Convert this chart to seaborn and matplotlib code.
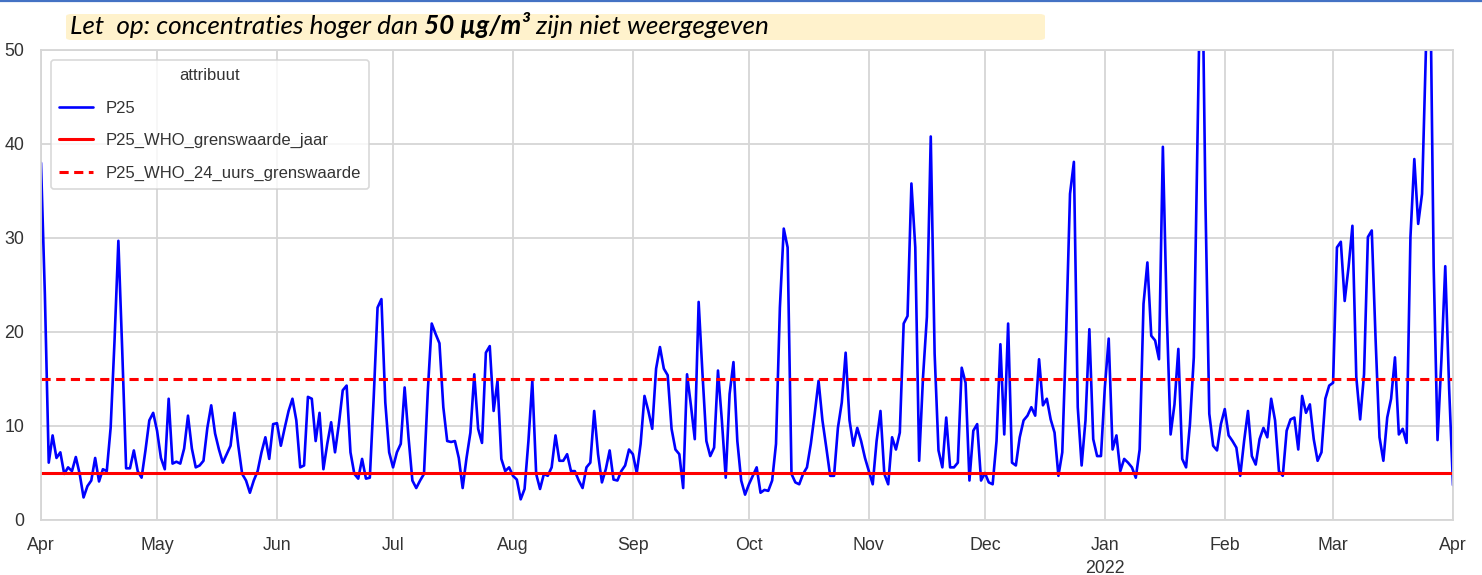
import numpy as np
import pandas as pd
import matplotlib
matplotlib.use("Agg")
import matplotlib.pyplot as plt
import seaborn as sns
from matplotlib.patches import FancyBboxPatch
from matplotlib.lines import Line2D

# ---------------- data ----------------
start_date = "2021-04-01"
end_date = "2022-04-01"

p25 = [
    # April 2021
    38, 24, 6.1, 9.0, 6.6, 7.2, 4.9, 5.6, 5.2, 6.7, 4.9, 2.4, 3.6, 4.2, 6.6,
    4.1, 5.4, 5.2, 9.8, 19, 29.7, 18, 5.5, 5.5, 7.4, 5.2, 4.5, 7.4, 10.6, 11.4,
    # May
    9.5, 6.6, 5.4, 12.9, 6.0, 6.2, 6.0, 7.6, 11.1, 7.6, 5.6, 5.8, 6.3, 9.8, 12.2,
    9.2, 7.5, 6.1, 7.0, 7.9, 11.4, 7.9, 4.9, 4.2, 2.9, 4.2, 5.2, 7.2, 8.8, 6.5, 10.2,
    # June
    10.3, 7.9, 9.8, 11.6, 12.9, 10.6, 5.6, 5.8, 13.1, 12.9, 8.4, 11.4, 5.4, 8.1, 10.4,
    7.2, 10.2, 13.8, 14.3, 7.2, 4.9, 4.4, 6.5, 4.4, 4.5, 13, 22.6, 23.5, 12.5, 7.2,
    # July
    5.6, 7.2, 8.1, 14.1, 8.8, 4.2, 3.4, 4.2, 4.9, 13.8, 20.9, 19.8, 18.8, 12, 8.4,
    8.3, 8.4, 6.6, 3.4, 6.6, 9.3, 15.5, 9.7, 8.2, 17.8, 18.5, 11.6, 14.8, 6.5, 5.2, 5.6,
    # August
    4.7, 4.3, 2.2, 3.3, 8.4, 14.8, 4.9, 3.3, 4.9, 4.7, 5.6, 9.0, 6.3, 6.3, 7.0,
    5.2, 5.2, 4.2, 3.4, 5.6, 6.1, 11.6, 7.0, 4.0, 5.4, 7.4, 4.3, 4.2, 5.2, 5.8, 7.5,
    # September
    7.0, 5.0, 8.1, 13.2, 11.6, 9.7, 16.1, 18.4, 16.1, 15.4, 9.7, 7.5, 7.0, 3.4, 15.5,
    12.2, 8.6, 23.2, 15.5, 8.4, 6.8, 7.7, 15.9, 10.6, 4.5, 13.4, 16.8, 8.4, 4.2, 2.7,
    # October
    3.8, 4.7, 5.6, 2.9, 3.2, 3.1, 4.2, 8.1, 22.6, 31.0, 29.0, 4.9, 4.0, 3.8, 4.9,
    5.6, 8.1, 11.3, 14.8, 10.6, 7.7, 4.7, 4.7, 9.8, 12.5, 17.8, 10.6, 7.9, 9.8, 8.4, 6.6,
    # November
    5.2, 3.8, 8.4, 11.6, 4.9, 3.8, 8.8, 7.5, 9.3, 20.9, 21.7, 35.8, 29.0, 6.3, 15.2,
    21.6, 40.8, 17.7, 7.4, 5.6, 10.9, 5.6, 5.6, 6.1, 16.2, 14.6, 4.2, 9.5, 10.2, 4.2,
    # December
    5.0, 4.0, 3.8, 8.4, 18.7, 9.1, 20.9, 6.1, 5.8, 8.8, 10.6, 11.1, 12.0, 11.1, 17.1,
    12.2, 12.9, 10.7, 9.3, 4.7, 7.2, 19.8, 34.7, 38.1, 12.0, 5.8, 10.6, 20.3, 8.6, 6.8, 6.8,
    # January 2022
    14.1, 19.3, 7.5, 9.0, 5.2, 6.5, 6.1, 5.6, 4.5, 7.5, 23.0, 27.4, 19.6, 19.1, 17.1,
    39.7, 22, 9.1, 12.3, 18.2, 6.5, 5.6, 10.2, 17.3, 42, 66, 34, 11.3, 7.9, 7.4, 10.2,
    # February
    11.8, 9.0, 8.4, 7.7, 4.7, 8.4, 11.6, 6.8, 5.9, 8.6, 9.8, 8.8, 12.9, 10.6, 5.2,
    4.7, 9.5, 10.7, 10.9, 7.5, 13.2, 11.4, 12.3, 8.6, 6.3, 7.2, 12.9, 14.3,
    # March
    14.6, 29.0, 29.6, 23.3, 26.9, 31.3, 15.2, 10.7, 15.5, 30.1, 30.8, 19.1, 8.8, 6.3, 10.9,
    12.9, 17.3, 9.1, 9.7, 8.2, 30.1, 38.4, 31.5, 34.7, 50, 62, 27, 8.5, 17, 27, 14,
    # 1 April 2022
    3.7,
]
who_year_limit = 5
who_24h_limit = 15
series_names = ["P25", "P25_WHO_grenswaarde_jaar", "P25_WHO_24_uurs_grenswaarde"]
month_labels = ["Apr", "May", "Jun", "Jul", "Aug", "Sep", "Oct", "Nov", "Dec",
                "Jan\n2022", "Feb", "Mar", "Apr"]
y_ticks = [0, 10, 20, 30, 40, 50]
legend_title = "attribuut"
note_parts = ["Let  op: concentraties hoger dan ", "50 \u00b5g/m\u00b3", " zijn niet weergegeven"]

# ---------------- table ----------------
dates = pd.date_range(start_date, end_date, freq="D")
n = len(dates)
assert len(p25) == n, len(p25)
df = pd.DataFrame({
    "datum": np.tile(dates, 3),
    "attribuut": np.repeat(series_names, n),
    "waarde": np.concatenate([p25, [who_year_limit] * n, [who_24h_limit] * n]),
})

# ---------------- style ----------------
sns.set_theme(style="whitegrid")
plt.rcParams["font.family"] = ["Liberation Sans", "DejaVu Sans"]
plt.rcParams["grid.color"] = "#d6d6d6"
plt.rcParams["grid.linewidth"] = 1.3
plt.rcParams["axes.edgecolor"] = "#d6d6d6"
plt.rcParams["axes.linewidth"] = 1.3

W, H = 1482, 575
fig = plt.figure(figsize=(W / 100, H / 100), dpi=100)
ax = fig.add_axes([41 / W, (H - 520) / H, (1453 - 41) / W, (520 - 50) / H])

palette = {series_names[0]: "#0000ff", series_names[1]: "#ff0000", series_names[2]: "#ff0000"}
dashes = {series_names[0]: "", series_names[1]: "", series_names[2]: (3.0, 1.8)}
widths = {series_names[0]: 1.9, series_names[1]: 2.2, series_names[2]: 2.2}

sns.lineplot(data=df, x="datum", y="waarde", hue="attribuut", style="attribuut",
             palette=palette, dashes=dashes, hue_order=series_names,
             style_order=series_names, ax=ax, legend=False, linewidth=2.0)
for line, name in zip(ax.get_lines(), series_names):
    line.set_linewidth(widths[name])

ax.set_xlim(dates[0], dates[-1])
ax.set_ylim(0, 50)
ax.set_yticks(y_ticks)
ax.set_yticklabels([str(v) for v in y_ticks])
tick_dates = pd.date_range(start_date, end_date, freq="MS")
ax.set_xticks(tick_dates)
ax.set_xticklabels(month_labels, linespacing=1.45)
ax.set_xlabel("")
ax.set_ylabel("")
ax.tick_params(axis="both", labelsize=12.8, colors="#333333", pad=6)

handles = [Line2D([], [], color=palette[s], lw=widths[s],
                  linestyle="-" if s != series_names[2] else (0, (3.0, 1.8)))
           for s in series_names]
leg = ax.legend(handles, series_names, title=legend_title, loc="upper left",
                fontsize=12.0, title_fontsize=12.0, frameon=True,
                borderaxespad=0.6, borderpad=0.5, labelspacing=1.05,
                handlelength=2.0, handletextpad=0.75)
leg.get_frame().set_edgecolor("#d0d0d0")
leg.get_frame().set_linewidth(1.2)
for t in leg.get_texts():
    t.set_color("#333333")
leg.get_title().set_color("#333333")

# ---------------- note box ----------------
box = FancyBboxPatch((66 / W, (H - 40) / H), (1045 - 66) / W, 26 / H,
                     boxstyle="round,pad=0,rounding_size=0.004",
                     transform=fig.transFigure, facecolor="#fff2cc",
                     edgecolor="none", zorder=0)
fig.patches.append(box)

fig.add_artist(Line2D([0, 1], [1 - 1 / H, 1 - 1 / H], transform=fig.transFigure,
                      color="#4472c4", lw=1.6))

renderer = fig.canvas.get_renderer()
note_size = 15
target_w = 700
def draw_note(size):
    texts = []
    x = 70 / W
    for i, part in enumerate(note_parts):
        t = fig.text(x, (H - 34) / H, part, fontsize=size, style="italic",
                     weight="bold" if i == 1 else "normal",
                     family=["Lato", "DejaVu Sans"], color="#000000",
                     ha="left", va="baseline")
        bb = t.get_window_extent(renderer)
        x += bb.width / W
        texts.append(t)
    return texts, x * W - 70
texts, wdt = draw_note(note_size)
for t in texts:
    t.remove()
note_size = note_size * target_w / wdt
draw_note(note_size)

fig.savefig("out.png", dpi=100)
